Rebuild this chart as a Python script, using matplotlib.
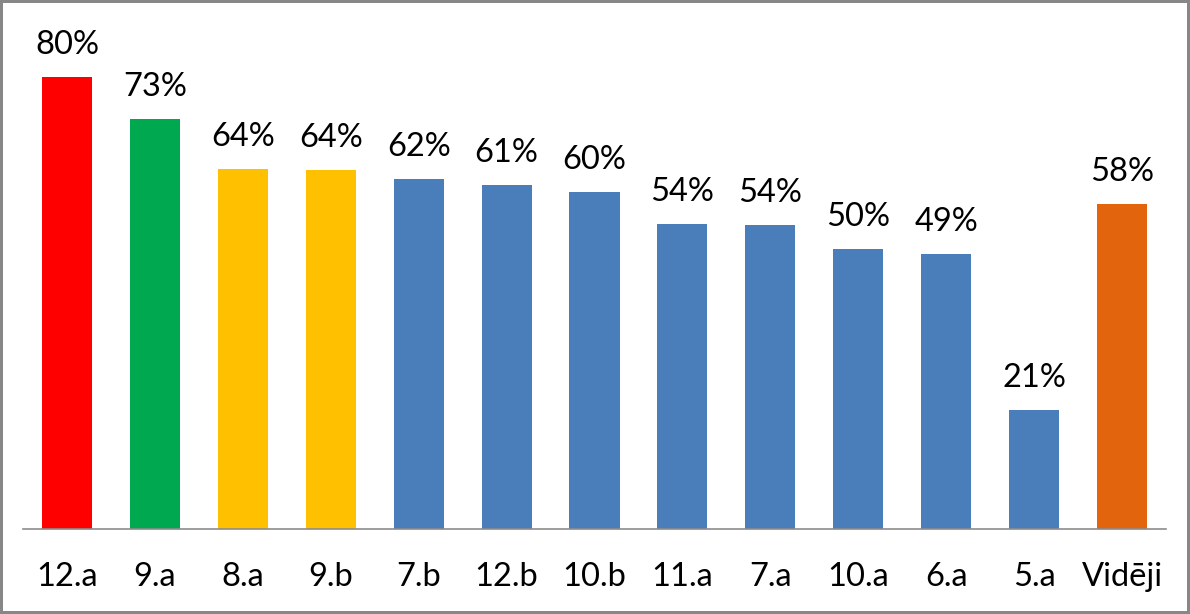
import matplotlib
matplotlib.use("Agg")
import matplotlib.pyplot as plt

# class names and share (in %)
classes = ["12.a", "9.a", "8.a", "9.b", "7.b", "12.b", "10.b", "11.a", "7.a", "10.a", "6.a", "5.a", "Vidēji"]
values = [80.0, 72.6, 63.7, 63.5, 61.9, 60.9, 59.7, 54.0, 53.8, 49.6, 48.6, 21.1, 57.6]
labels = ["80%", "73%", "64%", "64%", "62%", "61%", "60%", "54%", "54%", "50%", "49%", "21%", "58%"]
colors = ["#FF0000", "#00A84F", "#FFC000", "#FFC000"] + ["#4A7EBB"] * 8 + ["#E2640C"]

plt.rcParams['font.family'] = ['Lato', 'DejaVu Sans']

fig = plt.figure(figsize=(11.9, 6.14), dpi=100)
fig.patch.set_edgecolor('#878787')
fig.patch.set_linewidth(4)
ax = fig.add_axes([23 / 1190, 85 / 614, (1166 - 23) / 1190, (529 - 20.5) / 614])

x = range(len(classes))
bars = ax.bar(x, values, width=0.57, color=colors)
for b, lab in zip(bars, labels):
    ax.text(b.get_x() + b.get_width() / 2, b.get_height() + 3.0, lab,
            ha='center', va='bottom', fontsize=23.5)

ax.set_xlim(-0.5, len(classes) - 0.5)
ax.set_ylim(0, 90)
ax.set_xticks(list(x))
ax.set_xticklabels(classes, fontsize=23.5)
ax.tick_params(axis='x', length=0, pad=24)
ax.set_yticks([])
for s in ['top', 'right', 'left']:
    ax.spines[s].set_visible(False)
ax.spines['bottom'].set_color('#8C8C8C')
ax.spines['bottom'].set_linewidth(1.2)

fig.savefig("out.png", dpi=100, edgecolor=fig.get_edgecolor())
